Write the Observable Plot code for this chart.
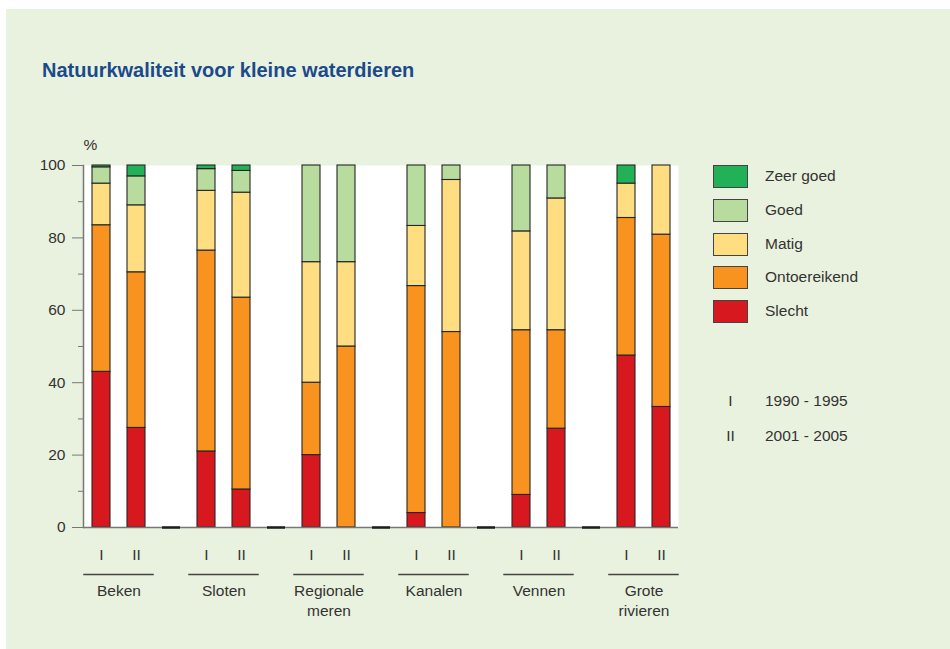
<!DOCTYPE html>
<html>
<head>
<meta charset="utf-8">
<script src="https://cdn.jsdelivr.net/npm/d3@7"></script>
<script src="https://cdn.jsdelivr.net/npm/@observablehq/plot@0.6"></script>
<style>
  html, body { margin: 0; padding: 0; background: #ffffff; width: 950px; height: 649px; overflow: hidden; }
  #panel { position: absolute; left: 6px; top: 9px; right: 0; bottom: 0; background: #e9f2de; }
  #title { position: absolute; left: 42px; top: 59px; font: bold 20px "Liberation Sans", Arial, sans-serif; color: #1b4a8c; white-space: nowrap; }
  #chart { position: absolute; left: 0; top: 0; }
  #legend { position: absolute; left: 713px; top: 165px; font: 15.5px "Liberation Sans", Arial, sans-serif; color: #333; }
  .row { position: absolute; left: 0; height: 23px; width: 200px; }
  .sw { position: absolute; left: 0; top: 0; width: 33px; height: 21px; border: 1px solid #444; }
  .lab { position: absolute; left: 52px; top: 2px; white-space: nowrap; }
  .per { position: absolute; left: 0; width: 200px; }
  .per .k { position: absolute; left: 0; width: 35px; text-align: center; }
  .per .v { position: absolute; left: 52px; white-space: nowrap; }
</style>
</head>
<body>
<div id="panel"></div>
<div id="title">Natuurkwaliteit voor kleine waterdieren</div>
<div id="chart"></div>
<div id="legend"></div>
<script>
// Categories (bottom to top in the stack)
const classes = ["Slecht", "Ontoereikend", "Matig", "Goed", "Zeer goed"];
const colors  = ["#d7191f", "#f7931e", "#fede80", "#b8dc9e", "#22b157"];

// Water types and periods
const groups  = ["Beken", "Sloten", "Regionale meren", "Kanalen", "Vennen", "Grote rivieren"];
const groupLabels = ["Beken", "Sloten", "Regionale\nmeren", "Kanalen", "Vennen", "Grote\nrivieren"];
const periods = ["I", "II"];
const periodLabels = ["1990 - 1995", "2001 - 2005"];

// Percentages per class, in order of groups x periods (Beken I, Beken II, Sloten I, ...)
const slecht       = [43.0, 27.5, 21.0, 10.5, 20.0,  0.0,  4.0,  0.0,  9.0, 27.3, 47.5, 33.3];
const ontoereikend = [40.5, 43.0, 55.5, 53.0, 20.0, 50.0, 62.7, 54.0, 45.5, 27.2, 38.0, 47.6];
const matig        = [11.5, 18.5, 16.5, 29.0, 33.3, 23.3, 16.6, 42.0, 27.3, 36.4,  9.5, 19.1];
const goed         = [ 4.5,  8.0,  6.0,  6.0, 26.7, 26.7, 16.7,  4.0, 18.2,  9.1,  0.0,  0.0];
const zeerGoed     = [ 0.5,  3.0,  1.0,  1.5,  0.0,  0.0,  0.0,  0.0,  0.0,  0.0,  5.0,  0.0];

const yTicks = [0, 20, 40, 60, 80, 100];
const yMinorTicks = [10, 30, 50, 70, 90];

// Build slots: each group has I, II and a gap slot (except the last)
const slots = [];
groups.forEach((g, gi) => {
  periods.forEach(p => slots.push(g + "|" + p));
  if (gi < groups.length - 1) slots.push(g + "|gap");
});
const gaps = slots.filter(s => s.endsWith("|gap"));

const series = [slecht, ontoereikend, matig, goed, zeerGoed];
const data = [];
groups.forEach((g, gi) => {
  periods.forEach((p, pi) => {
    const idx = gi * 2 + pi;
    classes.forEach((c, ci) => {
      const v = series[ci][idx];
      if (v > 0) data.push({slot: g + "|" + p, klasse: c, value: v});
    });
  });
});

const font = '"Liberation Sans", Arial, sans-serif';

const chart = Plot.plot({
  width: 700,
  height: 640,
  marginLeft: 83,
  marginRight: 22,
  marginTop: 165,
  marginBottom: 113,
  style: {background: "transparent", fontFamily: font, fontSize: "15.5px", color: "#333"},
  x: {domain: slots, paddingInner: 0.5, paddingOuter: 0.25, axis: null},
  y: {domain: [0, 100], axis: null},
  color: {domain: classes, range: colors},
  marks: [
    Plot.frame({fill: "white", stroke: null}),
    Plot.barY(data, {x: "slot", y: "value", fill: "klasse", order: classes, stroke: "#262626", strokeWidth: 1.1}),
    Plot.ruleY([0], {stroke: "#777", strokeWidth: 1.5}),
    Plot.tickY(gaps, {x: d => d, y: () => 0, stroke: "#1e1e1e", strokeWidth: 2.5}),
    Plot.frame({anchor: "left", stroke: "#777", strokeWidth: 1.5}),
    Plot.axisY({ticks: yTicks, tickSize: 11, tickPadding: 7, stroke: "#777", fontSize: 15.5, fill: "#333", label: null}),
    Plot.axisY({ticks: yMinorTicks, tickSize: 5, tickFormat: () => "", stroke: "#777", label: null}),
    Plot.axisX({
      ticks: slots.filter(s => !s.endsWith("|gap")),
      tickSize: 0, tickPadding: 21, fontSize: 15.5, fill: "#333", label: null,
      tickFormat: s => s.split("|")[1]
    }),
    Plot.ruleY(groups, {x1: g => g + "|I", x2: g => g + "|II", y: () => 0, dy: 47,
      insetLeft: -8.75, insetRight: -8.75, stroke: "#444", strokeWidth: 1.3}),
    Plot.text(groups, {x: g => g + "|I", text: (g, i) => groupLabels[i], frameAnchor: "bottom",
      lineAnchor: "top", dx: 17.5, dy: 54, lineHeight: 1.3, fontSize: 15.5, fill: "#333"}),
    Plot.text(["%"], {frameAnchor: "top-left", text: d => d, dx: 7, dy: -27, lineAnchor: "top",
      textAnchor: "middle", fontSize: 15.5, fill: "#333"})
  ]
});
document.getElementById("chart").appendChild(chart);

// Legend (HTML)
const legend = document.getElementById("legend");
const legendOrder = classes.slice().reverse();
legendOrder.forEach((c, i) => {
  const row = document.createElement("div");
  row.className = "row";
  row.style.top = (i * 33.8) + "px";
  const sw = document.createElement("div");
  sw.className = "sw";
  sw.style.background = colors[classes.indexOf(c)];
  const lab = document.createElement("div");
  lab.className = "lab";
  lab.textContent = c;
  row.appendChild(sw); row.appendChild(lab);
  legend.appendChild(row);
});
periods.forEach((p, i) => {
  const row = document.createElement("div");
  row.className = "per";
  row.style.top = (227 + i * 35) + "px";
  const k = document.createElement("div"); k.className = "k"; k.textContent = p;
  const v = document.createElement("div"); v.className = "v"; v.textContent = periodLabels[i];
  row.appendChild(k); row.appendChild(v);
  legend.appendChild(row);
});
</script>
</body>
</html>
